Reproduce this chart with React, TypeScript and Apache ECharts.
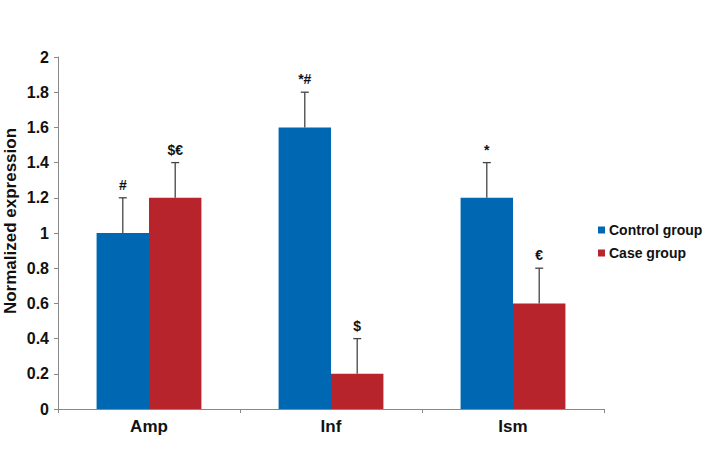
import React, { useEffect, useRef } from "react";
import * as echarts from "echarts";

const categories = ["Amp", "Inf", "Ism"];
const controlValues = [1.0, 1.6, 1.2];
const caseValues = [1.2, 0.2, 0.6];
const controlErrors = [0.2, 0.2, 0.2];
const caseErrors = [0.2, 0.2, 0.2];
const controlMarks = ["#", "*#", "*"];
const caseMarks = ["$€", "$", "€"];
const yTicks = { min: 0, max: 2, interval: 0.2 };
const yTitle = "Normalized expression";

const FONT = "'Liberation Sans', Arial, sans-serif";
const BLUE = "#0068B2";
const RED = "#B7242B";
const BAR_FRAC = 0.288;

function errorSeries(name: string, values: number[], errs: number[], marks: string[], side: number) {
  return {
    type: "custom",
    name: name + " err",
    silent: true,
    z: 5,
    data: values.map((v, i) => [i, v, v + errs[i], marks[i]]),
    renderItem: (params: any, api: any) => {
      const idx = api.value(0);
      const base = api.coord([idx, api.value(1)]);
      const top = api.coord([idx, api.value(2)]);
      const band = api.size([1, 0])[0];
      const bw = band * BAR_FRAC;
      const x = base[0] + side * bw / 2;
      const cap = 4;
      return {
        type: "group",
        children: [
          { type: "line", shape: { x1: x, y1: base[1], x2: x, y2: top[1] }, style: { stroke: "#444", lineWidth: 1.3 } },
          { type: "line", shape: { x1: x - cap, y1: top[1], x2: x + cap, y2: top[1] }, style: { stroke: "#444", lineWidth: 1.3 } },
          {
            type: "text",
            style: {
              text: marks[idx],
              x: x,
              y: top[1] - 6,
              align: "center",
              verticalAlign: "bottom",
              font: "bold 14px " + FONT,
              fill: "#111",
            },
          },
        ],
      };
    },
  };
}

export default function App() {
  const ref = useRef<HTMLDivElement>(null);
  useEffect(() => {
    document.body.style.margin = "0";
    if (!ref.current) return;
    const chart = echarts.init(ref.current, null, { renderer: "svg" });
    chart.setOption({
      animation: false,
      backgroundColor: "#fff",
      grid: { left: 58, right: 99, top: 57, bottom: 41, containLabel: false, outerBoundsMode: "none" },
      graphic: [
        {
          type: "text",
          x: 10,
          y: 221,
          rotation: Math.PI / 2,
          style: {
            text: yTitle,
            align: "center",
            verticalAlign: "middle",
            font: "bold 17px " + FONT,
            fill: "#111",
          },
        },
      ],
      legend: {
        orient: "vertical",
        left: 593,
        top: 218,
        icon: "rect",
        itemWidth: 7,
        itemHeight: 7,
        itemGap: 9,
        data: ["Control group", "Case group"],
        textStyle: { fontFamily: FONT, fontWeight: "bold", fontSize: 14, color: "#111", padding: [0, 0, 0, -1] },
      },
      xAxis: {
        type: "category",
        data: categories,
        axisLine: { lineStyle: { color: "#888", width: 1 } },
        axisTick: { show: true, length: 4, lineStyle: { color: "#888" } },
        axisLabel: { fontFamily: FONT, fontWeight: "bold", fontSize: 17, color: "#111", margin: 9 },
      },
      yAxis: {
        type: "value",
        min: yTicks.min,
        max: yTicks.max,
        interval: yTicks.interval,
        axisLine: { show: true, lineStyle: { color: "#888", width: 1 } },
        axisTick: { show: true, length: 4, lineStyle: { color: "#888" } },
        splitLine: { show: false },
        axisLabel: {
          fontFamily: FONT,
          fontWeight: "bold",
          fontSize: 16,
          color: "#111",
          margin: 9,
          formatter: (v: number) => String(Math.round(v * 10) / 10),
        },
      },
      series: [
        {
          name: "Control group",
          type: "bar",
          data: controlValues,
          barGap: "0%",
          barCategoryGap: "42.4%",
          itemStyle: { color: BLUE },
        },
        {
          name: "Case group",
          type: "bar",
          data: caseValues,
          barGap: "0%",
          barCategoryGap: "42.4%",
          itemStyle: { color: RED },
        },
        errorSeries("Control group", controlValues, controlErrors, controlMarks, -1),
        errorSeries("Case group", caseValues, caseErrors, caseMarks, 1),
      ],
    });
    return () => chart.dispose();
  }, []);
  return <div ref={ref} style={{ width: 703, height: 450 }} />;
}
